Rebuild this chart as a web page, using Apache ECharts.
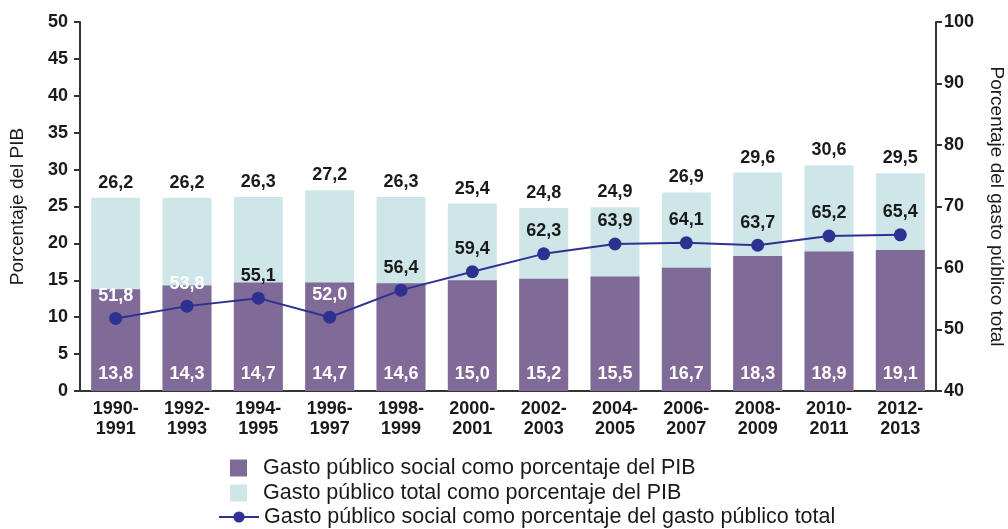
<!DOCTYPE html>
<html>
<head>
<meta charset="utf-8">
<script src="https://cdn.jsdelivr.net/npm/echarts@6/dist/echarts.min.js"></script>
<style>
    html, body { margin: 0; padding: 0; background: #fff; }
    #chart { width: 1008px; height: 529px; }
</style>
</head>
<body>
<div id="chart"></div>
<script>
// datos del gráfico
var periodos = ['1990-\n1991', '1992-\n1993', '1994-\n1995', '1996-\n1997', '1998-\n1999', '2000-\n2001',
    '2002-\n2003', '2004-\n2005', '2006-\n2007', '2008-\n2009', '2010-\n2011', '2012-\n2013'];
var socialPib = [13.8, 14.3, 14.7, 14.7, 14.6, 15.0, 15.2, 15.5, 16.7, 18.3, 18.9, 19.1];
var totalPib = [26.2, 26.2, 26.3, 27.2, 26.3, 25.4, 24.8, 24.9, 26.9, 29.6, 30.6, 29.5];
var socialTotal = [51.8, 53.8, 55.1, 52.0, 56.4, 59.4, 62.3, 63.9, 64.1, 63.7, 65.2, 65.4];
// etiquetas de la línea que quedan dentro de la barra morada
var etiquetaBlanca = [true, true, false, true, false, false, false, false, false, false, false, false];

var nombres = ['Gasto público social como porcentaje del PIB',
    'Gasto público total como porcentaje del PIB',
    'Gasto público social como porcentaje del gasto público total'];

function coma(v) {
    return v.toFixed(1).replace('.', ',');
}

var chart = echarts.init(document.getElementById('chart'));

var option = {
    animation: false,
    textStyle: {
        fontFamily: 'Liberation Sans, Arial, sans-serif'
    },
    grid: {
        left: 80,
        right: 72,
        top: 22,
        bottom: 138,
        containLabel: false,
        outerBoundsMode: 'none'
    },
    legend: [{
        orient: 'vertical',
        left: 225,
        top: 452,
        itemWidth: 17,
        itemHeight: 17,
        itemGap: 3,
        icon: 'rect',
        textStyle: { fontSize: 21.5, color: '#1a1a1a', padding: [0, 0, 0, 11] },
        data: [nombres[0], nombres[1]]
    }, {
        left: 213,
        top: 501,
        itemWidth: 40,
        itemHeight: 14,
        textStyle: { fontSize: 21.5, color: '#1a1a1a' },
        data: [nombres[2]]
    }],
    xAxis: {
        type: 'category',
        data: periodos,
        axisLine: { lineStyle: { color: '#333', width: 2 } },
        axisTick: { length: 6, lineStyle: { color: '#333', width: 2 } },
        axisLabel: {
            color: '#1a1a1a',
            fontWeight: 'bold',
            fontSize: 18,
            lineHeight: 20,
            margin: 8
        }
    },
    yAxis: [{
        type: 'value',
        min: 0,
        max: 50,
        interval: 5,
        name: 'Porcentaje del PIB',
        nameLocation: 'middle',
        nameRotate: 90,
        nameGap: 53,
        nameTextStyle: { fontSize: 19, color: '#1a1a1a' },
        axisLine: { show: true, lineStyle: { color: '#333', width: 2 } },
        axisTick: { show: true, length: 6, lineStyle: { color: '#333', width: 2 } },
        axisLabel: { color: '#1a1a1a', fontWeight: 'bold', fontSize: 18, margin: 12 },
        splitLine: { show: false }
    }, {
        type: 'value',
        min: 40,
        max: 100,
        interval: 10,
        position: 'right',
        name: 'Porcentaje del gasto público total',
        nameLocation: 'middle',
        nameRotate: -90,
        nameGap: 51,
        nameTextStyle: { fontSize: 19, color: '#1a1a1a' },
        axisLine: { show: true, lineStyle: { color: '#333', width: 2 } },
        axisTick: { show: true, length: 6, lineStyle: { color: '#333', width: 2 } },
        axisLabel: { color: '#1a1a1a', fontWeight: 'bold', fontSize: 18, margin: 8 },
        splitLine: { show: false }
    }],
    series: [{
        name: nombres[1],
        type: 'bar',
        barWidth: 49,
        barGap: '-100%',
        itemStyle: { color: '#cfe6e9' },
        label: {
            show: true,
            position: 'top',
            distance: 6,
            color: '#1a1a1a',
            fontWeight: 'bold',
            fontSize: 18,
            formatter: function (p) { return coma(p.value); }
        },
        data: totalPib,
        z: 1
    }, {
        name: nombres[0],
        type: 'bar',
        barWidth: 49,
        barGap: '-100%',
        itemStyle: { color: '#806a97' },
        label: {
            show: true,
            position: 'insideBottom',
            distance: 8,
            color: '#fff',
            fontWeight: 'bold',
            fontSize: 18,
            formatter: function (p) { return coma(p.value); }
        },
        data: socialPib,
        z: 2
    }, {
        name: nombres[2],
        type: 'line',
        yAxisIndex: 1,
        symbol: 'circle',
        symbolSize: 13,
        lineStyle: { color: '#2e3192', width: 2 },
        itemStyle: { color: '#2e3192' },
        label: {
            show: true,
            position: 'top',
            distance: 7,
            fontWeight: 'bold',
            fontSize: 18,
            formatter: function (p) { return coma(p.value); }
        },
        data: socialTotal.map(function (v, i) {
            return {
                value: v,
                label: { color: etiquetaBlanca[i] ? '#fff' : '#1a1a1a' }
            };
        }),
        z: 3
    }]
};

chart.setOption(option);
</script>
</body>
</html>
